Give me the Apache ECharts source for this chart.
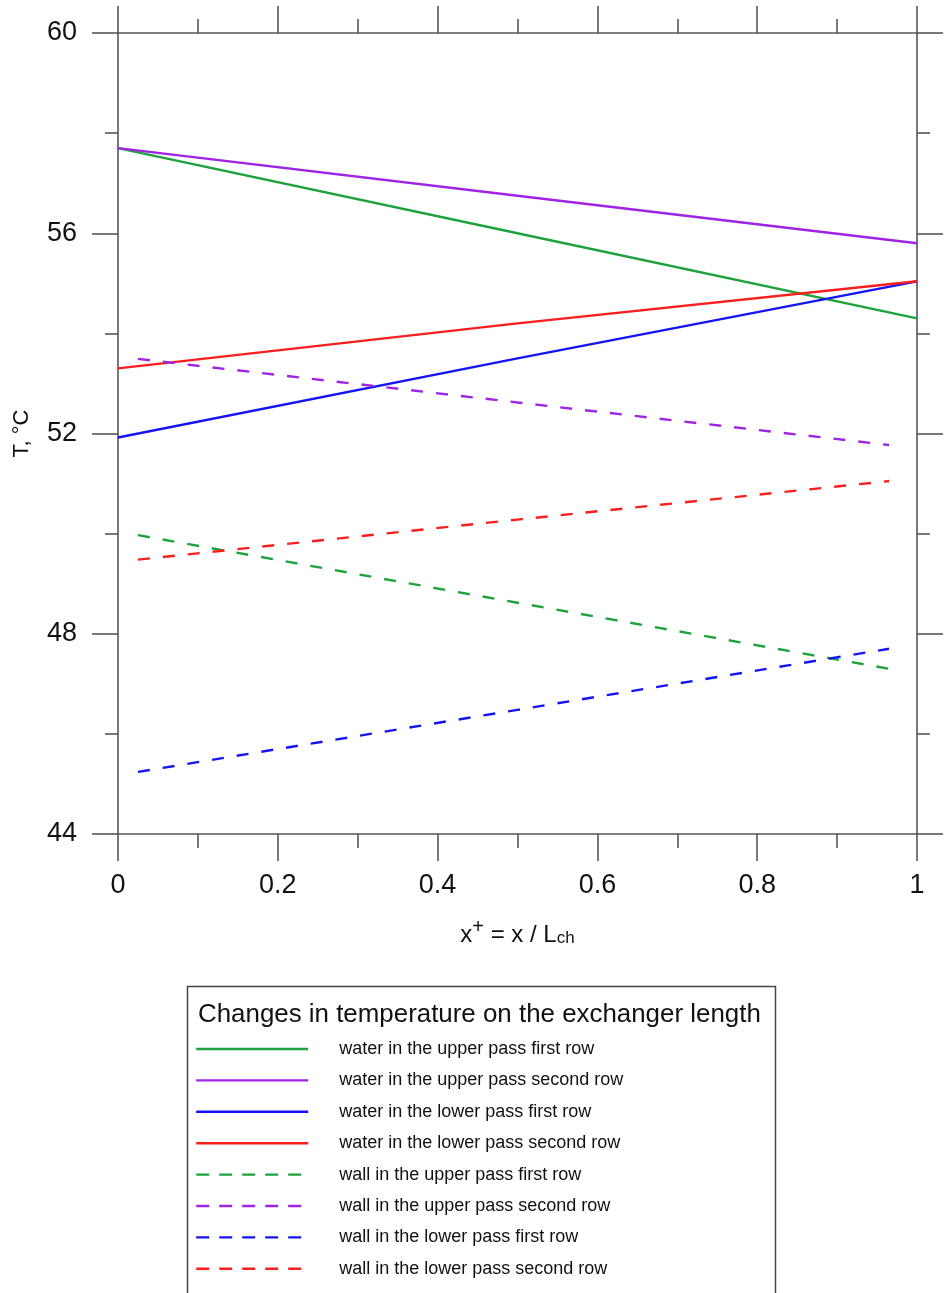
<!DOCTYPE html>
<html lang="en" style="height:100%">
<head>
    <meta charset="UTF-8">
    <title>Temperature on the exchanger length</title>
    <script src="https://cdn.jsdelivr.net/npm/echarts@6/dist/echarts.min.js"></script>
</head>
<body style="height:100%;margin:0;background:#fff">
<div id="main" style="width:945px;height:1293px;"></div>
<script type="text/javascript">
    // x positions (x+ = x / Lch)
    var xWater = [0, 0.5, 1];
    var xWall = [0.025, 0.5, 0.965];

    // temperatures, degC
    var waterUpperFirst = [57.7, 56.0, 54.3];
    var waterUpperSecond = [57.7, 56.75, 55.8];
    var waterLowerFirst = [51.92, 53.5, 55.04];
    var waterLowerSecond = [53.3, 54.2, 55.04];
    var wallUpperFirst = [49.97, 48.62, 47.3];
    var wallUpperSecond = [53.49, 52.62, 51.77];
    var wallLowerFirst = [45.24, 46.48, 47.7];
    var wallLowerSecond = [49.48, 50.28, 51.05];

    var names = [
        'water in the upper pass first row',
        'water in the upper pass second row',
        'water in the lower pass first row',
        'water in the lower pass second row',
        'wall in the upper pass first row',
        'wall in the upper pass second row',
        'wall in the lower pass first row',
        'wall in the lower pass second row'
    ];
    var values = [waterUpperFirst, waterUpperSecond, waterLowerFirst, waterLowerSecond,
                  wallUpperFirst, wallUpperSecond, wallLowerFirst, wallLowerSecond];
    var colors = ['#1ea33c', '#a024e6', '#1414f5', '#fa1e1e', '#1ea33c', '#a024e6', '#1414f5', '#fa1e1e'];

    function pairs(xs, ys) {
        return xs.map(function (x, i) { return [x, ys[i]]; });
    }

    var series = names.map(function (n, i) {
        var wall = i >= 4;
        return {
            name: n,
            type: 'line',
            symbol: 'none',
            data: pairs(wall ? xWall : xWater, values[i]),
            lineStyle: {color: colors[i], width: 2.4, type: wall ? [12, 13] : 'solid'},
            itemStyle: {color: colors[i]}
        };
    });

    var axisColor = '#555';
    var font = 'Liberation Sans, Arial, sans-serif';
    function xAx(pos, labels) {
        return {
            type: 'value', position: pos, min: 0, max: 1, interval: 0.2,
            axisLine: {show: true, onZero: false, lineStyle: {color: axisColor, width: 1.6}},
            axisTick: {show: true, inside: false, length: 27, lineStyle: {color: axisColor, width: 1.6}},
            minorTick: {show: true, splitNumber: 2, length: 14, lineStyle: {color: axisColor, width: 1.6}},
            splitLine: {show: false},
            axisLabel: {show: labels, margin: 38, color: '#111', fontSize: 27, fontFamily: font}
        };
    }
    function yAx(pos, labels) {
        return {
            type: 'value', position: pos, min: 44, max: 60, interval: 4,
            axisLine: {show: true, onZero: false, lineStyle: {color: axisColor, width: 1.6}},
            axisTick: {show: true, inside: false, length: 26, lineStyle: {color: axisColor, width: 1.6}},
            minorTick: {show: true, splitNumber: 2, length: 13, lineStyle: {color: axisColor, width: 1.6}},
            splitLine: {show: false},
            axisLabel: {show: labels, margin: 41, color: '#111', fontSize: 27, fontFamily: font}
        };
    }

    var myChart = echarts.init(document.getElementById('main'));
    var bottomX = xAx('bottom', true);
    bottomX.name = '{a|x}{sup|+}{a| = x / L}{sub|ch}';
    bottomX.nameLocation = 'middle';
    bottomX.nameGap = 83;
    bottomX.nameTextStyle = {
        rich: {
            a: {fontSize: 24, fontFamily: font, color: '#111', verticalAlign: 'bottom'},
            sup: {fontSize: 20, fontFamily: font, color: '#111', verticalAlign: 'top', padding: [0, 0, 10, 0]},
            sub: {fontSize: 17, fontFamily: font, color: '#111', verticalAlign: 'bottom', padding: [12, 0, 0, 0]}
        }
    };
    var leftY = yAx('left', true);
    leftY.name = 'T, \u00B0C';
    leftY.nameLocation = 'middle';
    leftY.nameGap = 85;
    leftY.nameTextStyle = {fontSize: 22, fontFamily: font, color: '#111'};

    var legendData = names.map(function (n, i) {
        return i >= 4 ? {name: n, lineStyle: {type: [13, 10]}} : {name: n};
    });

    var option = {
        animation: false,
        backgroundColor: '#fff',
        color: colors,
        grid: {left: 118, right: 28, top: 33, bottom: 459, containLabel: false, outerBoundsMode: 'none'},
        xAxis: [bottomX, xAx('top', false)],
        yAxis: [leftY, yAx('right', false)],
        legend: {
            orient: 'vertical',
            left: 195,
            top: 1038,
            padding: 0,
            height: 300,
            itemWidth: 112,
            itemHeight: 14,
            itemGap: 9.4,
            itemStyle: {opacity: 0},
            lineStyle: {width: 2.4},
            data: legendData,
            textStyle: {fontSize: 18, lineHeight: 22, fontFamily: font, color: '#111', padding: [0, 0, 0, 26]}
        },
        graphic: [
            {type: 'rect', left: 185, top: 984, shape: {width: 588, height: 340},
             style: {fill: 'none', stroke: '#444', lineWidth: 1.5}},
            {type: 'text', left: 198, top: 1002,
             style: {text: 'Changes in temperature on the exchanger length', fontSize: 25.9, fontFamily: font, fill: '#111'}}
        ],
        series: series
    };
    myChart.setOption(option);
</script>
</body>
</html>
